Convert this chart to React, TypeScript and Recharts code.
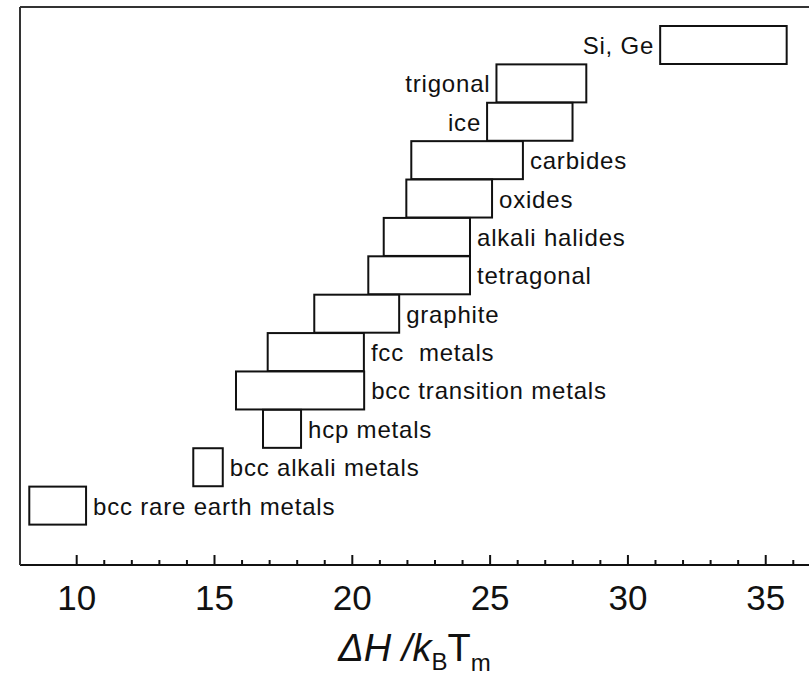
import React from "react";
import { ComposedChart, Bar, XAxis, YAxis } from "recharts";

const categories = [
  "Si, Ge",
  "trigonal",
  "ice",
  "carbides",
  "oxides",
  "alkali halides",
  "tetragonal",
  "graphite",
  "fcc\u00a0 metals",
  "bcc transition metals",
  "hcp metals",
  "bcc alkali metals",
  "bcc rare earth metals",
];
const lowValues = [31.17, 25.23, 24.89, 22.14, 21.96, 21.14, 20.58, 18.62, 16.93, 15.78, 16.76, 14.23, 8.28];
const highValues = [35.76, 28.49, 27.99, 26.19, 25.07, 24.27, 24.27, 21.7, 20.42, 20.43, 18.14, 15.3, 10.34];
const labelSides = ["left", "left", "left", "right", "right", "right", "right", "right", "right", "right", "right", "right", "right"];
const xTicks = [10, 11, 12, 13, 14, 15, 16, 17, 18, 19, 20, 21, 22, 23, 24, 25, 26, 27, 28, 29, 30, 31, 32, 33, 34, 35, 36];
const majorTicks = [10, 15, 20, 25, 30, 35];
const xDomain = [7.943, 36.57];

const data = categories.map((name, i) => ({
  name,
  lo: lowValues[i],
  hi: highValues[i],
  side: labelSides[i],
}));

const FONT = "'Liberation Sans', Arial, Helvetica, sans-serif";
const INK = "#111";

const BoxShape = (props: any) => {
  const { x, y, width, height, payload } = props;
  const cy = y + height / 2 + 9;
  const left = payload.side === "left";
  return (
    <g>
      <rect x={x} y={y} width={width} height={height} fill="#fff" stroke={INK} strokeWidth={2} />
      <text
        x={left ? x - 6 : x + width + 7}
        y={cy}
        textAnchor={left ? "end" : "start"}
        fontFamily={FONT}
        fontSize={24}
        letterSpacing={0.8}
        fill={INK}
        style={{ whiteSpace: "pre" }}
      >
        {payload.name}
      </text>
    </g>
  );
};

const TickMark = (props: any) => {
  const { x, y, payload } = props;
  const v = payload.value;
  const major = majorTicks.includes(v);
  return (
    <g>
      <line x1={x} x2={x} y1={y} y2={y - (major ? 10 : 5)} stroke={INK} strokeWidth={2} />
      {major && (
        <text x={x} y={y + 45} textAnchor="middle" fontFamily={FONT} fontSize={35} fill={INK}>
          {v}
        </text>
      )}
    </g>
  );
};

const AxisTitle = (props: any) => {
  const vb = props.viewBox || {};
  const cx = vb.x + vb.width / 2;
  const by = vb.y + 96;
  return (
    <text x={cx} y={by} textAnchor="middle" fontFamily={FONT} fontSize={38} fill={INK}>
      <tspan fontStyle="italic">ΔH /k</tspan>
      <tspan fontSize={24} dy={9}>B</tspan>
      <tspan dy={-9}>T</tspan>
      <tspan fontSize={24} dy={10}>m</tspan>
    </text>
  );
};

export default function App() {
  return (
    <div style={{ position: "absolute", left: 0, top: 0, background: "#fff" }}>
      <ComposedChart
        width={809}
        height={679}
        data={data}
        layout="vertical"
        margin={{ top: 6, right: 0, bottom: 0, left: 19 }}
        barCategoryGap={0}
      >
        <XAxis
          type="number"
          xAxisId="main"
          domain={xDomain}
          allowDataOverflow
          ticks={xTicks}
          interval={0}
          tickSize={0}
          tickMargin={0}
          tickLine={false}
          height={114}
          axisLine={{ stroke: INK, strokeWidth: 2 }}
          tick={<TickMark />}
          label={{ content: <AxisTitle /> }}
        />
        <XAxis
          type="number"
          xAxisId="top"
          orientation="top"
          domain={xDomain}
          allowDataOverflow
          height={1}
          tick={false}
          tickLine={false}
          axisLine={{ stroke: "#333", strokeWidth: 2 }}
        />
        <YAxis
          type="category"
          dataKey="name"
          width={1}
          tick={false}
          tickLine={false}
          axisLine={{ stroke: "#333", strokeWidth: 2 }}
          padding={{ top: 19, bottom: 40 }}
        />
        <Bar
          xAxisId="main"
          dataKey={(d: any) => [d.lo, d.hi]}
          shape={<BoxShape />}
          isAnimationActive={false}
        />
      </ComposedChart>
    </div>
  );
}
